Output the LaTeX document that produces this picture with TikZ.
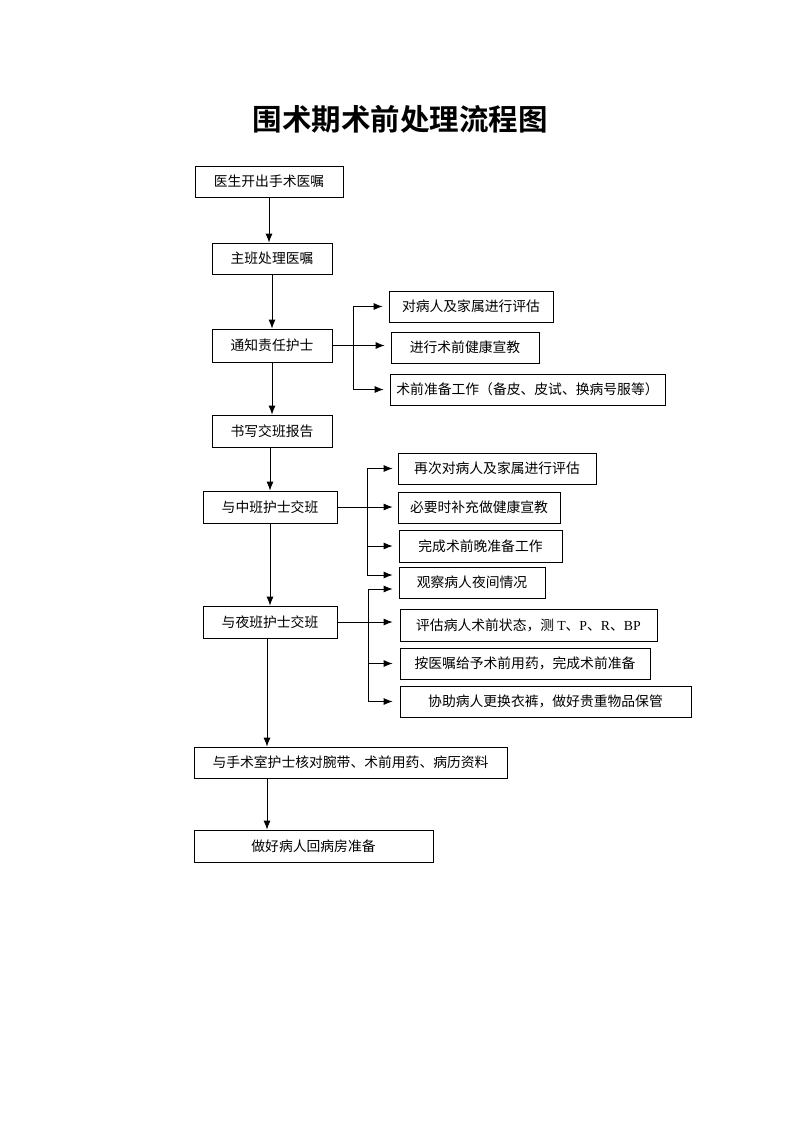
\documentclass[tikz,border=0pt]{standalone}
\usepackage{fontspec}
\setmainfont{Liberation Serif}
\newfontfamily\cjk{Noto Sans CJK SC}
\newfontfamily\cjkbold{Noto Sans CJK SC Bold}
\usetikzlibrary{arrows.meta}
\begin{document}
\begin{tikzpicture}[x=1pt,y=-1pt,
  box/.style={draw, line width=0.8pt, inner sep=0pt, anchor=center,
    font=\fontsize{13.8}{15}\selectfont\cjk},
  arr/.style={-{Latex[length=9pt,width=7pt]}, line width=0.8pt},
  ln/.style={line width=0.8pt}]
\useasboundingbox (0,0) rectangle (800,1132);

\node[font=\fontsize{29.5}{32}\selectfont\cjkbold] (title) at (400,119) {围术期术前处理流程图};

% main column
\node[box, minimum width=148, minimum height=31] (n1) at (269,181.5) {医生开出手术医嘱};
\node[box, minimum width=120, minimum height=31] (n2) at (272,258.5) {主班处理医嘱};
\node[box, minimum width=120, minimum height=33] (n3) at (272,345.5) {通知责任护士};
\node[box, minimum width=120, minimum height=32] (n4) at (272,431) {书写交班报告};
\node[box, minimum width=134, minimum height=32] (n5) at (270,507) {与中班护士交班};
\node[box, minimum width=134, minimum height=32] (n6) at (270,622) {与夜班护士交班};
\node[box, minimum width=313, minimum height=31] (n7) at (350.5,762.5) {与手术室护士核对腕带、术前用药、病历资料};
\node[box, minimum width=239, minimum height=32] (n8) at (313.5,846) {做好病人回病房准备};

% branch group 1
\node[box, minimum width=164, minimum height=31] (a1) at (471,306.5) {对病人及家属进行评估};
\node[box, minimum width=148, minimum height=31] (a2) at (465,347.5) {进行术前健康宣教};
\node[box, minimum width=275, minimum height=31] (a3) at (527.5,389.5) {术前准备工作（备皮、皮试、换病号服等）};

% branch group 2
\node[box, minimum width=198, minimum height=31] (b1) at (497,468.5) {再次对病人及家属进行评估};
\node[box, minimum width=162, minimum height=31] (b2) at (479,507.5) {必要时补充做健康宣教};
\node[box, minimum width=163, minimum height=32] (b3) at (480.5,546) {完成术前晚准备工作};
\node[box, minimum width=146, minimum height=31] (b4) at (472,582.5) {观察病人夜间情况};

% branch group 3
\node[box, minimum width=257, minimum height=32] (c1) at (528.5,625) {{\cjk 评估病人术前状态，测 }{\rmfamily T}{\cjk 、}{\rmfamily P}{\cjk 、}{\rmfamily R}{\cjk 、}{\rmfamily BP}};
\node[box, minimum width=250, minimum height=31] (c2) at (525,663.5) {按医嘱给予术前用药，完成术前准备};
\node[box, minimum width=291, minimum height=31] (c3) at (545.5,701.5) {协助病人更换衣裤，做好贵重物品保管};

% main arrows
\draw[arr] (n1.south) -- (n1.south |- n2.north);
\draw[arr] (n2.south) -- (n3.north);
\draw[arr] (n3.south) -- (n4.north);
\draw[arr] (n5.north |- n4.south) -- (n5.north);
\draw[arr] (n5.south) -- (n6.north);
\coordinate (m1) at ([xshift=-3pt]n6.south);
\draw[arr] (m1) -- (m1 |- n7.north);
\draw[arr] (m1 |- n7.south) -- (m1 |- n8.north);

% group 1 connectors
\coordinate (j1) at (353,345.5);
\draw[ln] (j1 |- a1) -- (j1 |- a3);
\draw[arr, shorten >=6pt] (n3.east) -- (n3.east -| a2.west);
\draw[arr, shorten >=6pt] (j1 |- a1) -- (a1.west);
\draw[arr, shorten >=6pt] (j1 |- a3) -- (a3.west);

% group 2 connectors
\coordinate (j2) at (367,507);
\coordinate (b4up) at ([yshift=7.5pt]b4.west);
\draw[ln] (j2 |- b1) -- (j2 |- b4up);
\draw[arr, shorten >=5pt] (n5.east) -- (n5.east -| b2.west);
\draw[arr, shorten >=5pt] (j2 |- b1) -- (b1.west);
\draw[arr, shorten >=6pt] (j2 |- b3) -- (b3.west);
\draw[arr, shorten >=6pt] (j2 |- b4up) -- (b4up);

% group 3 connectors
\coordinate (j3) at (368,622);
\coordinate (b4dn) at ([yshift=-6.5pt]b4.west);
\draw[ln] (j3 |- b4dn) -- (j3 |- c3);
\draw[arr, shorten >=6pt] (j3 |- b4dn) -- (b4dn);
\draw[arr, shorten >=7pt] (n6.east) -- (n6.east -| c1.west);
\draw[arr, shorten >=7pt] (j3 |- c2) -- (c2.west);
\draw[arr, shorten >=7pt] (j3 |- c3) -- (c3.west);
\end{tikzpicture}
\end{document}
